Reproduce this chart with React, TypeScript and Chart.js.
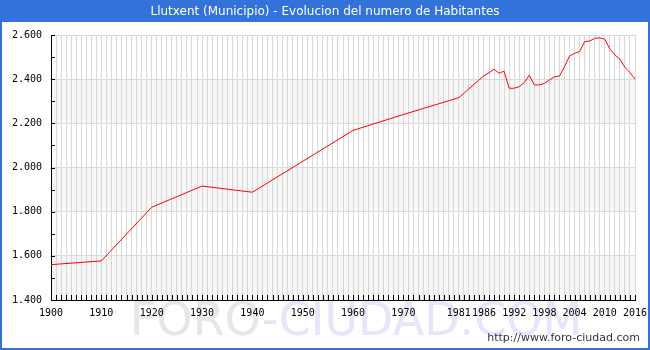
import React, { useEffect, useRef } from 'react';
import { Chart, registerables } from 'chart.js';

Chart.register(...registerables);

const TITLE = 'Llutxent (Municipio) - Evolucion del numero de Habitantes';
const URL_TEXT = 'http://www.foro-ciudad.com';

const years = [
  1900, 1910, 1920, 1930, 1940, 1950, 1960, 1970, 1981, 1986,
  1987, 1988, 1989, 1990, 1991, 1992, 1993, 1994, 1995, 1996,
  1997, 1998, 1999, 2000, 2001, 2002, 2003, 2004, 2005, 2006,
  2007, 2008, 2009, 2010, 2011, 2012, 2013, 2014, 2015, 2016,
];

const population = [
  1560, 1577, 1820, 1916, 1888, 2028, 2168, 2240, 2316, 2416,
  2429, 2445, 2427, 2436, 2359, 2359, 2366, 2384, 2418, 2374,
  2374, 2381, 2396, 2411, 2414, 2457, 2505, 2517, 2525, 2570,
  2573, 2585, 2587, 2581, 2537, 2510, 2490, 2454, 2430, 2400,
];

const xTickLabels = [1900, 1910, 1920, 1930, 1940, 1950, 1960, 1970, 1981, 1986, 1992, 1998, 2004, 2010, 2016];

const yMin = 1400;
const yMax = 2600;
const grayBands: [number, number][] = [
  [1400, 1600],
  [1800, 2000],
  [2200, 2400],
];

const fmt = (v: number) => {
  const th = Math.floor(v / 1000);
  const rest = Math.round(v % 1000);
  return th > 0 ? th + '.' + String(rest).padStart(3, '0') : String(rest);
};

const decorPlugin = {
  id: 'decor',
  beforeDraw(chart: any) {
    const { ctx, chartArea: a, scales } = chart;
    const y = scales.y;
    const W = chart.width;
    const H = chart.height;
    ctx.save();
    ctx.fillStyle = '#ffffff';
    ctx.fillRect(0, 0, W, H);
    // bands
    ctx.fillStyle = '#f7f7f7';
    for (const [lo, hi] of grayBands) {
      const yt = y.getPixelForValue(hi);
      const yb = y.getPixelForValue(lo);
      ctx.fillRect(a.left, yt, a.right - a.left, yb - yt);
    }
    // watermark
    ctx.font = '46px "DejaVu Sans"';
    ctx.textBaseline = 'alphabetic';
    ctx.textAlign = 'left';
    const p1 = 'FORO-';
    const p2 = 'CIUDAD.COM';
    const wx = 130;
    const wy = 335;
    ctx.fillStyle = '#e6e6e6';
    ctx.fillText(p1, wx, wy);
    const w1 = ctx.measureText(p1).width;
    ctx.fillStyle = '#e5e5fb';
    ctx.fillText(p2, wx + w1, wy);
    // title bar
    ctx.fillStyle = '#3373d9';
    ctx.fillRect(0, 0, W, 22);
    ctx.fillStyle = '#ffffff';
    ctx.font = '12px "DejaVu Sans"';
    ctx.textAlign = 'center';
    ctx.textBaseline = 'middle';
    ctx.fillText(TITLE, W / 2, 12);
    // border
    ctx.strokeStyle = '#3373d9';
    ctx.lineWidth = 2;
    ctx.strokeRect(1, 1, W - 2, H - 2);
    // url
    ctx.fillStyle = '#333333';
    ctx.font = '11px "DejaVu Sans"';
    ctx.textAlign = 'right';
    ctx.textBaseline = 'alphabetic';
    ctx.fillText(URL_TEXT, 640, 341);
    ctx.restore();
  },
  afterDraw(chart: any) {
    const { ctx, chartArea: a, scales } = chart;
    const x = scales.x;
    const y = scales.y;
    ctx.save();
    ctx.strokeStyle = '#000000';
    ctx.lineWidth = 1;
    ctx.beginPath();
    for (const t of x.ticks) {
      const px = Math.round(x.getPixelForValue(t.value)) + 0.5;
      ctx.moveTo(px, a.bottom);
      ctx.lineTo(px, a.bottom - 5);
    }
    for (const t of y.ticks) {
      const py = Math.round(y.getPixelForValue(t.value)) + 0.5;
      ctx.moveTo(a.left, py);
      ctx.lineTo(a.left + 4, py);
    }
    ctx.stroke();
    ctx.restore();
  },
};

export default function App() {
  const ref = useRef<HTMLCanvasElement | null>(null);

  useEffect(() => {
    document.body.style.margin = '0';
    const canvas = ref.current;
    if (!canvas) return;
    const chart = new Chart(canvas, {
      type: 'line',
      data: {
        datasets: [
          {
            data: years.map((yr, i) => ({ x: yr, y: population[i] })),
            borderColor: '#ff0000',
            borderWidth: 1,
            pointRadius: 0,
            fill: false,
            tension: 0,
          },
        ],
      },
      options: {
        responsive: false,
        animation: false,
        devicePixelRatio: 1,
        layout: { padding: { top: 35, right: 15, left: 0, bottom: 0 } },
        plugins: {
          legend: { display: false },
          tooltip: { enabled: false },
          title: { display: false },
        },
        scales: {
          x: {
            type: 'linear',
            min: 1900,
            max: 2016,
            afterFit: (s: any) => {
              s.height = 50;
              s.paddingRight = 0;
              s.paddingLeft = 0;
            },
            ticks: {
              stepSize: 1,
              autoSkip: false,
              maxRotation: 0,
              minRotation: 0,
              padding: 7,
              color: '#000000',
              font: { family: '"DejaVu Sans Mono"', size: 10 },
              callback: (v: any) => (xTickLabels.includes(Number(v)) ? String(v) : ''),
            },
            grid: { color: '#d9d9d9', lineWidth: 1, drawTicks: false },
            border: { display: true, color: '#000000', width: 1 },
          },
          y: {
            type: 'linear',
            min: yMin,
            max: yMax,
            afterFit: (s: any) => {
              s.width = 51;
              s.paddingTop = 0;
              s.paddingBottom = 0;
            },
            ticks: {
              stepSize: 100,
              padding: 9,
              color: '#000000',
              font: { family: '"DejaVu Sans Mono"', size: 10 },
              callback: (v: any) => (Number(v) % 200 === 0 ? fmt(Number(v)) : ''),
            },
            grid: {
              color: (c: any) => (c.tick && c.tick.value % 200 === 0 ? '#d9d9d9' : 'rgba(0,0,0,0)'),
              lineWidth: 1,
              drawTicks: false,
            },
            border: { display: true, color: '#000000', width: 1 },
          },
        },
      },
      plugins: [decorPlugin],
    });
    return () => chart.destroy();
  }, []);

  return (
    <div style={{ position: 'absolute', left: 0, top: 0, width: 650, height: 350 }}>
      <canvas ref={ref} width={650} height={350} />
    </div>
  );
}
